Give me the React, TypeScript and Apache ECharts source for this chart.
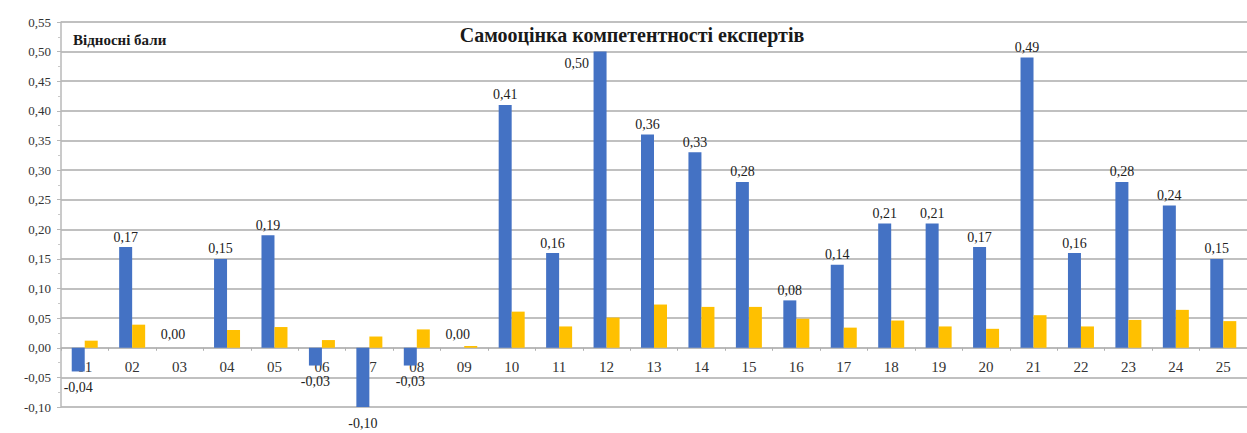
import React, { useEffect, useRef } from "react";
import * as echarts from "echarts";

const categories = ["01","02","03","04","05","06","07","08","09","10","11","12","13","14","15","16","17","18","19","20","21","22","23","24","25"];
const blueValues = [-0.04,0.17,0.00,0.15,0.19,-0.03,-0.10,-0.03,0.00,0.41,0.16,0.50,0.36,0.33,0.28,0.08,0.14,0.21,0.21,0.17,0.49,0.16,0.28,0.24,0.15];
const yellowValues = [0.012,0.039,0,0.030,0.035,0.013,0.019,0.031,0.003,0.061,0.036,0.051,0.073,0.069,0.069,0.049,0.034,0.046,0.036,0.032,0.055,0.036,0.047,0.064,0.045];
const chartTitle = "Самооцінка компетентності експертів";
const unitLabel = "Відносні бали";

const fmt = (v: number) => v.toFixed(2).replace(".", ",");
const SERIF = '"Liberation Serif", "DejaVu Serif", serif';

const Y_MIN = -0.1;
const Y_MAX = 0.55;
const GRID_TOP = 22;
const GRID_BOTTOM = 26;
const H = 433;

export default function App() {
  const ref = useRef<HTMLDivElement>(null);
  useEffect(() => {
    if (!ref.current) return;
    const chart = echarts.init(ref.current, null, { renderer: "svg" });
    const plotH = H - GRID_TOP - GRID_BOTTOM;
    const zeroOffset = -(plotH * (0 - Y_MIN)) / (Y_MAX - Y_MIN);
    const blueData = blueValues.map((v, i) => {
      if (i === 11) {
        return { value: v, label: { position: [-29, 5] as any } };
      }
      if (v < 0) {
        return { value: v, label: { distance: 9 } };
      }
      if (v === 0) {
        return { value: v, label: { position: "top", distance: 6 } };
      }
      return { value: v };
    });
    chart.setOption({
      animation: false,
      backgroundColor: "#ffffff",
      title: [
        {
          text: chartTitle,
          left: 632,
          top: 25,
          padding: 0,
          textAlign: "center",
          textStyle: { fontFamily: SERIF, fontWeight: "bold", fontSize: 20, color: "#1a1a1a" },
        },
        {
          text: unitLabel,
          left: 73,
          top: 32,
          padding: 0,
          textStyle: { fontFamily: SERIF, fontWeight: "bold", fontSize: 15, color: "#1a1a1a" },
        },
      ],
      grid: { left: 61, right: -6, top: GRID_TOP, bottom: GRID_BOTTOM, containLabel: false },
      xAxis: {
        type: "category",
        data: categories,
        offset: zeroOffset,
        axisLine: { onZero: false, lineStyle: { color: "#b8b8b8", width: 1.5 } },
        axisTick: { show: true, length: 3, lineStyle: { color: "#b0b0b0" } },
        axisLabel: { fontFamily: SERIF, fontSize: 15, color: "#333333", margin: 12 },
      },
      yAxis: {
        type: "value",
        min: Y_MIN,
        max: Y_MAX,
        interval: 0.05,
        axisLine: { show: true, lineStyle: { color: "#b8b8b8", width: 1.5 } },
        axisTick: { show: true, length: 4, lineStyle: { color: "#b8b8b8" } },
        minorTick: { show: true, splitNumber: 2, length: 3, lineStyle: { color: "#c8c8c8" } },
        splitLine: { show: true, lineStyle: { color: "#c0c0c0", width: 2 } },
        axisLabel: {
          fontFamily: SERIF,
          fontSize: 13,
          color: "#333333",
          margin: 10,
          formatter: (v: number) => fmt(v),
        },
      },
      series: [
        {
          type: "bar",
          name: "Самооцінка",
          data: blueData,
          barWidth: 13,
          barGap: "0%",
          itemStyle: { color: "#4472C4" },
          label: {
            show: true,
            position: "outside",
            distance: 3,
            fontFamily: SERIF,
            fontSize: 14,
            color: "#222222",
            formatter: (p: any) => fmt(p.value),
          },
        },
        {
          type: "bar",
          name: "Ряд 2",
          data: yellowValues,
          barWidth: 13,
          barGap: "0%",
          itemStyle: { color: "#FFC000" },
        },
      ],
    });
    return () => chart.dispose();
  }, []);
  return (
    <div
      ref={ref}
      style={{ position: "fixed", left: 0, top: 0, width: 1247, height: 433, background: "#fff" }}
    />
  );
}
